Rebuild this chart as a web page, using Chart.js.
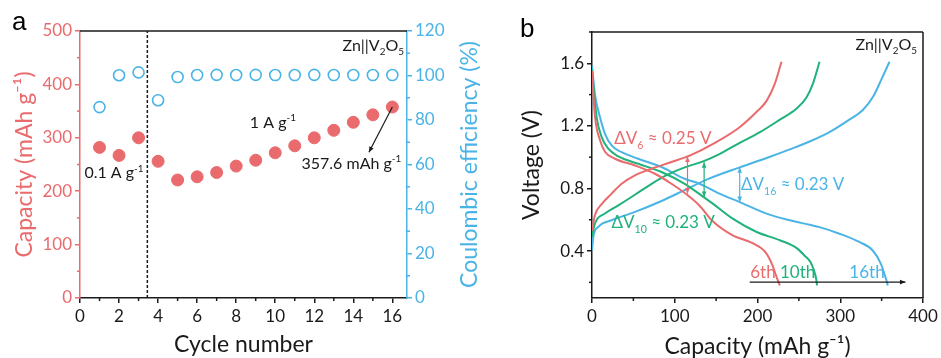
<!DOCTYPE html>
<html>
<head>
<meta charset="utf-8">
<script src="https://cdn.jsdelivr.net/npm/chart.js@4.4.0/dist/chart.umd.min.js"></script>
<style>
  body { margin: 0; background: #fff; }
  .panel { position: absolute; top: 0; }
</style>
</head>
<body>
<div class="panel" style="left:0"><canvas id="cycling" width="480" height="358"></canvas></div>
<div class="panel" style="left:480px"><canvas id="profiles" width="461" height="358"></canvas></div>

<script>
// panel a: rate / cycling data
var cycles = [1, 2, 3, 4, 5, 6, 7, 8, 9, 10, 11, 12, 13, 14, 15, 16];
var capacity = [282, 267, 300, 256, 221, 227, 235, 247, 258, 272, 285, 300, 314, 329, 343, 357.6];
var efficiency = [85.8, 100.1, 101.4, 88.9, 99.3, 100.2, 100.3, 100.2, 100.3, 100.2, 100.2, 100.3, 100.2, 100.2, 100.2, 100.2];
var dividerCycle = 3.45;

// panel b: charge / discharge profiles [capacity mAh/g, voltage V]
var dis6 = [[0, 1.55], [3.6, 1.26], [9.6, 1.11], [15.7, 1.035], [27.7, 0.99], [51.9, 0.947], [76, 0.894], [96, 0.83], [116, 0.755], [130, 0.69], [146, 0.59], [170, 0.50], [194, 0.45], [210, 0.39], [218, 0.31], [224, 0.22], [227, 0.18]];
var chg6 = [[0, 0.53], [3.6, 0.63], [11.7, 0.70], [23.7, 0.767], [35.8, 0.83], [51.9, 0.884], [72, 0.926], [96, 0.969], [120, 1.015], [148, 1.09], [178, 1.19], [199, 1.29], [211, 1.36], [221, 1.47], [229, 1.61]];
var dis10 = [[0, 1.56], [5.6, 1.256], [11.7, 1.128], [19.7, 1.054], [31.8, 1.005], [55.9, 0.958], [84, 0.905], [112, 0.83], [135, 0.745], [146, 0.703], [170, 0.607], [199, 0.522], [227, 0.469], [247, 0.42], [257, 0.37], [264, 0.33], [268, 0.28], [271, 0.22], [272, 0.18]];
var chg10 = [[0, 0.49], [3.6, 0.576], [15.7, 0.64], [31.8, 0.692], [51.9, 0.76], [72, 0.83], [92, 0.89], [112, 0.935], [135, 0.975], [154, 1.02], [178, 1.09], [203, 1.16], [227, 1.24], [247, 1.31], [259, 1.38], [267, 1.47], [275, 1.61]];
var dis16 = [[0, 1.585], [3.6, 1.40], [9.6, 1.256], [15.7, 1.149], [23.7, 1.075], [35.8, 1.032], [55.9, 0.99], [84, 0.937], [112, 0.862], [130, 0.83], [154, 0.767], [178.5, 0.713], [211, 0.639], [239, 0.597], [263, 0.568], [275, 0.553], [299, 0.511], [323, 0.458], [339, 0.405], [349, 0.32], [354.6, 0.234], [357.5, 0.18]];
var chg16 = [[0, 0.405], [1.6, 0.49], [7.6, 0.554], [23.7, 0.597], [51.9, 0.65], [84, 0.72], [112, 0.79], [140, 0.86], [178.5, 0.935], [211, 0.995], [239, 1.05], [263, 1.10], [287, 1.16], [311, 1.24], [327, 1.30], [340, 1.39], [350, 1.50], [359.5, 1.61]];

var RED = '#ea6b6d';
var BLUE = '#4bb4e6';
var GREEN = '#1fb27a';
var INK = '#1a1a1a';

Chart.defaults.font.family = 'Lato';

function pts(pairs) {
  return pairs.map(function (p) { return { x: p[0], y: p[1] }; });
}

function onStep(v, step) {
  return Math.abs(v / step - Math.round(v / step)) < 1e-6;
}

// text with sub/superscripts, parts = [[text, 'sub'|'sup'|''], ...]
function richText(ctx, parts, x, y, size, color, align) {
  ctx.save();
  ctx.fillStyle = color;
  ctx.textBaseline = 'alphabetic';
  ctx.textAlign = 'left';
  var widths = parts.map(function (p) {
    ctx.font = (p[1] ? size * 0.62 : size) + 'px Lato';
    return ctx.measureText(p[0]).width;
  });
  var total = widths.reduce(function (a, b) { return a + b; }, 0);
  var cx = align === 'right' ? x - total : (align === 'center' ? x - total / 2 : x);
  parts.forEach(function (p, i) {
    ctx.font = (p[1] ? size * 0.62 : size) + 'px Lato';
    var dy = p[1] === 'sub' ? size * 0.25 : (p[1] === 'sup' ? -size * 0.4 : 0);
    ctx.fillText(p[0], cx, y + dy);
    cx += widths[i];
  });
  ctx.restore();
}

function arrow(ctx, x1, y1, x2, y2, color, both) {
  var a = Math.atan2(y2 - y1, x2 - x1), h = 6;
  ctx.save();
  ctx.strokeStyle = color;
  ctx.fillStyle = color;
  ctx.lineWidth = 1.2;
  ctx.beginPath();
  ctx.moveTo(x1, y1);
  ctx.lineTo(x2, y2);
  ctx.stroke();
  function head(x, y, ang) {
    ctx.beginPath();
    ctx.moveTo(x, y);
    ctx.lineTo(x - h * Math.cos(ang - 0.4), y - h * Math.sin(ang - 0.4));
    ctx.lineTo(x - h * Math.cos(ang + 0.4), y - h * Math.sin(ang + 0.4));
    ctx.closePath();
    ctx.fill();
  }
  head(x2, y2, a);
  if (both) head(x1, y1, a + Math.PI);
  ctx.restore();
}

function frameLine(ctx, x1, y1, x2, y2, color) {
  ctx.save();
  ctx.strokeStyle = color;
  ctx.lineWidth = 1.5;
  ctx.beginPath();
  ctx.moveTo(x1, y1);
  ctx.lineTo(x2, y2);
  ctx.stroke();
  ctx.restore();
}

// short outward marks for unlabelled (minor) ticks
var minorTicks = {
  id: 'minorTicks',
  afterDraw: function (chart) {
    var ctx = chart.ctx, ca = chart.chartArea;
    Object.keys(chart.scales).forEach(function (id) {
      var s = chart.scales[id];
      ctx.save();
      ctx.strokeStyle = s.options.border.color;
      ctx.lineWidth = 1.5;
      s.ticks.forEach(function (t) {
        if (t.label !== '') return;
        var p = s.getPixelForValue(t.value);
        ctx.beginPath();
        if (s.position === 'bottom') { ctx.moveTo(p, ca.bottom); ctx.lineTo(p, ca.bottom + 3); }
        else if (s.position === 'left') { ctx.moveTo(ca.left, p); ctx.lineTo(ca.left - 3, p); }
        else { ctx.moveTo(ca.right, p); ctx.lineTo(ca.right + 3, p); }
        ctx.stroke();
      });
      ctx.restore();
    });
  }
};

function axis(opts) {
  return {
    type: 'linear',
    position: opts.position,
    min: opts.min,
    max: opts.max,
    afterFit: opts.fit,
    border: { color: opts.color, width: 1.5 },
    grid: {
      drawOnChartArea: false, tickLength: 5, color: opts.color, lineWidth: 1.5,
      tickColor: function (c) { return c.tick && c.tick.label === '' ? 'rgba(0,0,0,0)' : opts.color; }
    },
    ticks: {
      stepSize: opts.minor,
      includeBounds: false,
      autoSkip: false,
      maxRotation: 0,
      padding: 3,
      color: opts.color,
      font: { size: 17 },
      callback: function (v) {
        return onStep(v, opts.major) && v >= opts.min ? String(Math.round(v * 10) / 10) : '';
      }
    },
    title: opts.title ? {
      display: true,
      text: opts.title,
      color: opts.color,
      font: { size: 23, lineHeight: opts.lh || 1.2 },
      padding: opts.titlePad
    } : { display: false }
  };
}

// ---------- panel a ----------
var cyclingDecor = {
  id: 'cyclingDecor',
  afterDraw: function (chart) {
    var ctx = chart.ctx, ca = chart.chartArea;
    var x = chart.scales.x, y = chart.scales.y;
    frameLine(ctx, ca.left, ca.top, ca.right, ca.top, INK);

    ctx.save();
    ctx.translate(470, (ca.top + ca.bottom) / 2);
    ctx.rotate(-Math.PI / 2);
    ctx.fillStyle = BLUE;
    ctx.font = '23px Lato';
    ctx.textAlign = 'center';
    ctx.textBaseline = 'middle';
    ctx.fillText('Coulombic efficiency (%)', 0, 0);
    ctx.restore();

    ctx.save();
    ctx.fillStyle = '#000';
    ctx.font = '26px "Liberation Sans"';
    ctx.fillText('a', 12, 30);
    ctx.restore();

    richText(ctx, [['Zn||V', ''], ['2', 'sub'], ['O', ''], ['5', 'sub']], ca.right - 3, 51, 16, INK, 'right');
    richText(ctx, [['0.1 A g', ''], ['-1', 'sup']], x.getPixelForValue(1.74), y.getPixelForValue(236) + 6, 16, INK, 'center');
    richText(ctx, [['1 A g', ''], ['-1', 'sup']], x.getPixelForValue(9.88), y.getPixelForValue(330) + 6, 16, INK, 'center');
    richText(ctx, [['357.6 mAh g', ''], ['-1', 'sup']], x.getPixelForValue(13.9), y.getPixelForValue(253) + 6, 16, INK, 'center');
    arrow(ctx, x.getPixelForValue(16), y.getPixelForValue(357.6), x.getPixelForValue(14.8), y.getPixelForValue(273), INK, false);
  }
};

new Chart(document.getElementById('cycling'), {
  type: 'scatter',
  data: {
    datasets: [
      {
        data: [{ x: dividerCycle, y: 0 }, { x: dividerCycle, y: 500 }],
        showLine: true, borderColor: INK, borderWidth: 1.5, borderDash: [3, 2], pointRadius: 0, yAxisID: 'y'
      },
      {
        data: cycles.map(function (c, i) { return { x: c, y: capacity[i] }; }),
        backgroundColor: RED, borderColor: RED, pointRadius: 6, yAxisID: 'y'
      },
      {
        data: cycles.map(function (c, i) { return { x: c, y: efficiency[i] }; }),
        backgroundColor: 'rgba(0,0,0,0)', borderColor: BLUE, borderWidth: 1.6, pointRadius: 5.5, yAxisID: 'y1'
      }
    ]
  },
  options: {
    responsive: false,
    animation: false,
    layout: { padding: { top: 31, left: 0, right: 0, bottom: 0 } },
    plugins: { legend: { display: false }, tooltip: { enabled: false } },
    scales: {
      x: axis({ position: 'bottom', min: 0, max: 16.75, minor: 1, major: 2, color: INK, title: 'Cycle number',
        titlePad: { top: 0, bottom: 0 }, fit: function (s) { s.height = 60; } }),
      y: axis({ position: 'left', min: 0, max: 500, minor: 50, major: 100, color: RED, title: 'Capacity (mAh g\u207B\u00B9)',
        titlePad: { top: 11, bottom: 0 }, fit: function (s) { s.width = 80; } }),
      y1: axis({ position: 'right', min: 0, max: 120, minor: 10, major: 20, color: BLUE,
        fit: function (s) { s.width = 73; } })
    }
  },
  plugins: [cyclingDecor, minorTicks]
});

// ---------- panel b ----------
var profileDecor = {
  id: 'profileDecor',
  afterDraw: function (chart) {
    var ctx = chart.ctx, ca = chart.chartArea;
    var x = chart.scales.x, y = chart.scales.y;
    frameLine(ctx, ca.left, ca.top, ca.right, ca.top, INK);
    frameLine(ctx, ca.right, ca.top, ca.right, ca.bottom, INK);

    ctx.save();
    ctx.fillStyle = '#000';
    ctx.font = '26px "Liberation Sans"';
    ctx.fillText('b', 40, 37);
    ctx.restore();

    richText(ctx, [['Zn||V', ''], ['2', 'sub'], ['O', ''], ['5', 'sub']], ca.right - 6, 50, 16, INK, 'right');

    function px(c) { return x.getPixelForValue(c); }
    function py(v) { return y.getPixelForValue(v); }
    richText(ctx, [['\u0394V', ''], ['6', 'sub'], [' \u2248 0.25 V', '']], px(85.6), py(1.12) + 6, 17, RED, 'center');
    richText(ctx, [['\u0394V', ''], ['10', 'sub'], [' \u2248 0.23 V', '']], px(86), py(0.583) + 6, 17, GREEN, 'center');
    richText(ctx, [['\u0394V', ''], ['16', 'sub'], [' \u2248 0.23 V', '']], px(242.5), py(0.826) + 6, 17, BLUE, 'center');
    richText(ctx, [['6th', '']], px(206.6), py(0.264) + 6, 17, RED, 'center');
    richText(ctx, [['10th', '']], px(248.5), py(0.264) + 6, 17, GREEN, 'center');
    richText(ctx, [['16th', '']], px(332.3), py(0.264) + 6, 17, BLUE, 'center');

    arrow(ctx, px(115.4), py(0.767), px(115.4), py(1.005), RED, true);
    arrow(ctx, px(135.5), py(0.745), px(135.5), py(0.968), GREEN, true);
    arrow(ctx, px(178.5), py(0.713), px(178.5), py(0.936), BLUE, true);
    arrow(ctx, px(190.6), py(0.202), px(378.8), py(0.202), INK, false);
  }
};

function curve(pairs, color) {
  return {
    data: pts(pairs), showLine: true, borderColor: color, borderWidth: 2,
    pointRadius: 0, cubicInterpolationMode: 'monotone'
  };
}

new Chart(document.getElementById('profiles'), {
  type: 'scatter',
  data: {
    datasets: [
      curve(dis6, RED), curve(chg6, RED),
      curve(dis10, GREEN), curve(chg10, GREEN),
      curve(dis16, BLUE), curve(chg16, BLUE)
    ]
  },
  options: {
    responsive: false,
    animation: false,
    layout: { padding: { top: 32, left: 0, right: 18, bottom: 0 } },
    plugins: { legend: { display: false }, tooltip: { enabled: false } },
    scales: {
      x: axis({ position: 'bottom', min: 0, max: 400, minor: 50, major: 100, color: INK, title: 'Capacity (mAh g\u207B\u00B9)',
        lh: 1.0, titlePad: { top: 0, bottom: 0 }, fit: function (s) { s.height = 60; } }),
      y: axis({ position: 'left', min: 0.1, max: 1.8, minor: 0.2, major: 0.4, color: INK, title: 'Voltage (V)',
        titlePad: { top: 38, bottom: 0 }, fit: function (s) { s.width = 112; } })
    }
  },
  plugins: [profileDecor, minorTicks]
});
</script>
</body>
</html>
